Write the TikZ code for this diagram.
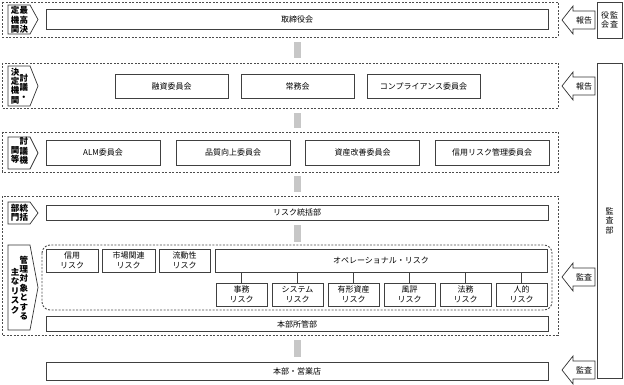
\documentclass[tikz,border=0pt]{standalone}
\usepackage{fontspec}
\setmainfont{Noto Sans CJK JP}
\usepackage{tikz}
\usetikzlibrary{positioning}

\tikzset{
  unitbox/.style={draw=black!75, line width=0.7pt, fill=white, inner sep=0pt,
    align=center, font=\fontsize{8}{9.5}\selectfont},
  riskbox/.style={unitbox, minimum width=51, minimum height=23},
  section/.style={draw=black!70, line width=0.9pt, dash pattern=on 2pt off 1.5pt},
  tagline/.style={draw=black!80, line width=0.7pt, fill=white},
  tagtext/.style={inner sep=0pt, align=center, font=\fontsize{8.5}{9.4}\selectfont\bfseries},
  sidetext/.style={inner sep=0pt, align=center, font=\fontsize{8}{9.5}\selectfont},
  flowbar/.style={fill=black!22},
}

% tag with its point to the right: top y, bottom y
\newcommand{\secttag}[2]{%
  \draw[tagline] (8,#1) -- (30,#1) -- (38,{(#1+#2)/2}) -- (30,#2) -- (8,#2) -- cycle;}

% open arrow pointing left: name, centre y, label
\newcommand{\sidearrow}[3]{%
  \draw[tagline] (562,#2) -- (573,#2-14) -- (573,#2-9) -- (595,#2-9)
    -- (595,#2+9) -- (573,#2+9) -- (573,#2+14) -- cycle;
  \node[sidetext] (#1) at (584,#2) {#3};}

\begin{document}
\begin{tikzpicture}[x=1pt, y=-1pt]
    \useasboundingbox (0,0) rectangle (624,385);

    % Sections
    \draw[section] (2,2) rectangle (558,37);
    \draw[section] (2,63) rectangle (558,108);
    \draw[section] (2,132) rectangle (558,172);
    \draw[section] (2,196) rectangle (558,335);
    \draw[section, rounded corners=8pt] (42,245) rectangle (552,310);

    % Flow bars
    \fill[flowbar] (294,42) rectangle (301,58);
    \fill[flowbar] (294,113) rectangle (301,128);
    \fill[flowbar] (294,176) rectangle (301,192);
    \fill[flowbar] (294,225) rectangle (301,242);
    \fill[flowbar] (294,340) rectangle (301,357);

    % Tags
    \secttag{5}{34}
    \node[tagtext] (t1r) at (24,20) {最\\高\\決};
    \node[tagtext] (t1l) at (15,20) {定\\機\\関};
    \secttag{66}{106}
    \node[tagtext] (t2r) at (24,87) {討\\議\\・};
    \node[tagtext] (t2l) at (15,86) {決\\定\\機\\関};
    \secttag{137}{169}
    \node[tagtext] (t3r) at (24,151) {討\\議\\機};
    \node[tagtext] (t3l) at (15,155) {関\\等};
    \secttag{202}{224}
    \node[tagtext] (t4r) at (24,213) {統\\括};
    \node[tagtext] (t4l) at (15,213) {部\\門};
    \secttag{245}{330}
    \node[tagtext] (t5r) at (24,288) {管\\理\\対\\象\\と\\す\\る};
    \node[tagtext] (t5l) at (15,291) {主\\な\\リ\\ス\\ク};

    % Top level
    \node[unitbox, minimum width=502, minimum height=20] (board) at (297,19) {取締役会};

    % Deciding bodies
    \node[unitbox, minimum width=113, minimum height=24] (loan) at (171.5,86) {融資委員会};
    \node[unitbox, minimum width=113, minimum height=24] (exec) at (297.5,86) {常務会};
    \node[unitbox, minimum width=113, minimum height=24] (compl) at (423.5,86) {コンプライアンス委員会};

    % Committees
    \node[unitbox, minimum width=114, minimum height=25] (alm) at (103,152.5) {ALM委員会};
    \node[unitbox, minimum width=114, minimum height=25] (qual) at (233,152.5) {品質向上委員会};
    \node[unitbox, minimum width=114, minimum height=25] (asset) at (362.5,152.5) {資産改善委員会};
    \node[unitbox, minimum width=114, minimum height=25] (credit) at (492,152.5) {信用リスク管理委員会};

    % Risk control
    \node[unitbox, minimum width=502, minimum height=15] (riskdiv) at (297,212.5) {リスク統括部};
    \node[unitbox, minimum width=52, minimum height=23] (rcred) at (72,260.5) {信用\\リスク};
    \node[unitbox, minimum width=53, minimum height=23] (rmkt) at (128.5,260.5) {市場関連\\リスク};
    \node[unitbox, minimum width=51, minimum height=23] (rliq) at (184.5,260.5) {流動性\\リスク};
    \node[unitbox, minimum width=332, minimum height=23] (rope) at (381,260.5) {オペレーショナル・リスク};
    \foreach \lbl [count=\i] in {事務, システム, 有形資産, 風評, 法務, 人的} {
        \node[riskbox] (sub\i) at ({241.5+56*(\i-1)},294.5) {\lbl\\リスク};
        \draw[black!75, line width=0.6pt] (rope.south -| sub\i.north) -- (sub\i.north);
    }
    \node[unitbox, minimum width=502, minimum height=15] (hq) at (297,324) {本部所管部};

    % Branches
    \node[unitbox, minimum width=502, minimum height=18] (branch) at (297,371) {本部・営業店};

    % Auditors
    \node[unitbox, minimum width=25, minimum height=36] (kansayaku) at (609.5,20) {};
    \node[sidetext] (ky1) at (614,20) {監\\査};
    \node[sidetext] (ky2) at (605,20) {役\\会};
    \node[unitbox, minimum width=25, minimum height=315] (kansabu) at (609.5,220.5) {監\\査\\部};

    % Arrows
    \sidearrow{rep1}{20}{報告}
    \sidearrow{rep2}{86}{報告}
    \sidearrow{aud1}{277}{監査}
    \sidearrow{aud2}{370}{監査}
\end{tikzpicture}
\end{document}
